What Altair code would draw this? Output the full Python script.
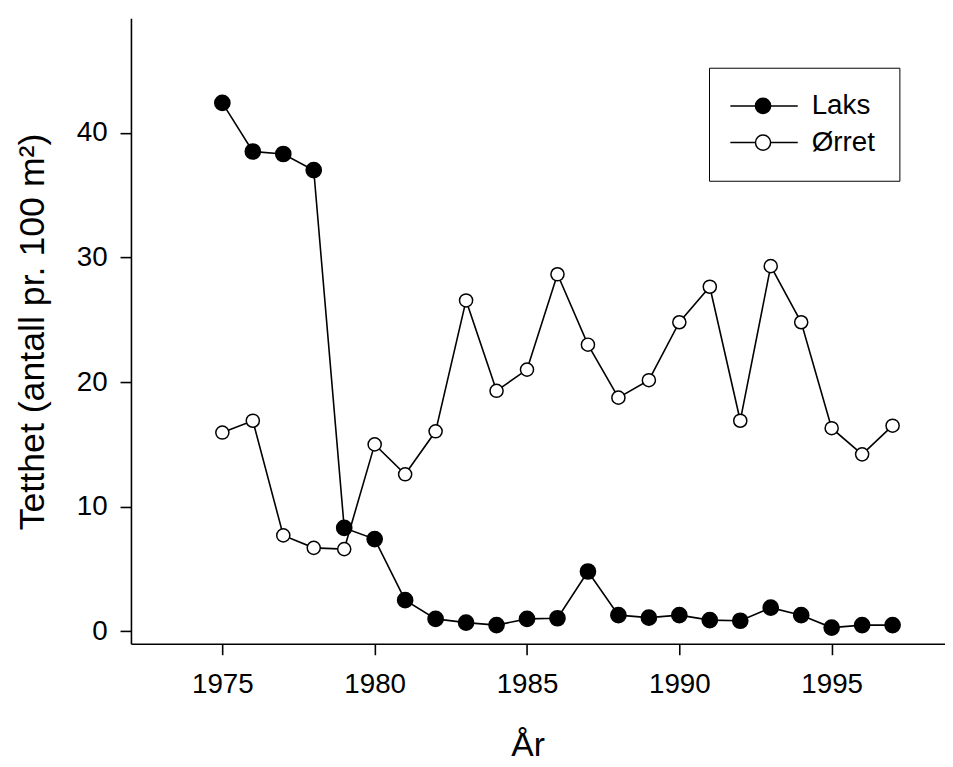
import altair as alt
import pandas as pd

years = list(range(1975, 1998))
laks = [42.4, 38.5, 38.3, 37.0, 8.3, 7.4, 2.5, 1.0, 0.7, 0.5, 1.0, 1.05, 4.8,
        1.3, 1.1, 1.3, 0.9, 0.85, 1.9, 1.3, 0.3, 0.5, 0.5]
orret = [15.95, 16.9, 7.7, 6.7, 6.6, 15.0, 12.6, 16.05, 26.55, 19.3, 21.0, 28.65,
         23.0, 18.75, 20.15, 24.8, 27.65, 16.9, 29.3, 24.8, 16.3, 14.2, 16.5]
series_names = ["Laks", "Ørret"]
x_ticks = [1975, 1980, 1985, 1990, 1995]
y_ticks = [0, 10, 20, 30, 40]

df = pd.DataFrame({
    "year": years * 2,
    "value": laks + orret,
    "series": [series_names[0]] * len(years) + [series_names[1]] * len(years),
})

FONT = "Liberation Sans"

x_enc = alt.X("year:Q",
              scale=alt.Scale(domain=[1972, 1998.72], nice=False, zero=False),
              axis=alt.Axis(values=x_ticks, format="d", title="År",
                            titleX=400, titleY=103, titleBaseline="middle",
                            titleFontSize=34, titleFontWeight="normal"))
y_enc = alt.Y("value:Q",
              scale=alt.Scale(domain=[-1, 49.2], nice=False, zero=False),
              axis=alt.Axis(values=y_ticks, title="Tetthet (antall pr. 100 m²)",
                            titleX=-99, titleY=316, titleBaseline="middle",
                            titleFontSize=36, titleFontWeight="normal"))

legend_path = ("M-2.0,0H0.98M2.78,0H6.0"
               "M2.78,0A0.9,0.9,0,1,1,0.98,0A0.9,0.9,0,1,1,2.78,0Z")

fill_enc = alt.Fill("series:N",
                    scale=alt.Scale(domain=series_names, range=["black", "white"]),
                    legend=alt.Legend(title=None, orient="none",
                                      legendX=583, legendY=50,
                                      symbolType=legend_path, symbolSize=289,
                                      symbolStrokeColor="black", symbolStrokeWidth=1.5,
                                      labelFontSize=28, labelFont=FONT,
                                      labelExpr="datum.label + '\u00a0'",
                                      labelOffset=51, padding=24.5,
                                      rowPadding=9,
                                      strokeColor="black", fillColor="white",
                                      cornerRadius=0))

base = alt.Chart(df)

lines = base.mark_line(color="black", strokeWidth=1.6).encode(
    x=x_enc, y=y_enc, detail="series:N")

pts_laks = base.transform_filter(alt.datum.series == "Laks").mark_point(
    filled=False, size=235, stroke="black", strokeWidth=1.5, opacity=1
).encode(x=x_enc, y=y_enc, fill=fill_enc)

pts_orret = base.transform_filter(alt.datum.series == "Ørret").mark_point(
    filled=False, size=175, stroke="black", strokeWidth=1.5, opacity=1
).encode(x=x_enc, y=y_enc, fill=fill_enc)

chart = alt.layer(lines, pts_laks, pts_orret).properties(
    width=821, height=631,
    autosize=alt.AutoSizeParams(type="none"),
    padding={"left": 124, "top": 7, "right": 0, "bottom": 120},
    background="white",
).configure_view(stroke=None).configure_axis(
    grid=False,
    domainColor="black", domainWidth=1.6,
    tickColor="black", tickWidth=1.6, tickSize=11,
    labelFont=FONT, labelFontSize=28, labelColor="black",
    titleFont=FONT, titleColor="black",
    labelPadding=13,
).configure_axisX(labelPadding=16).configure_legend(
    labelColor="black"
)

chart.save("out.html", embed_options={"renderer": "svg", "actions": False})
